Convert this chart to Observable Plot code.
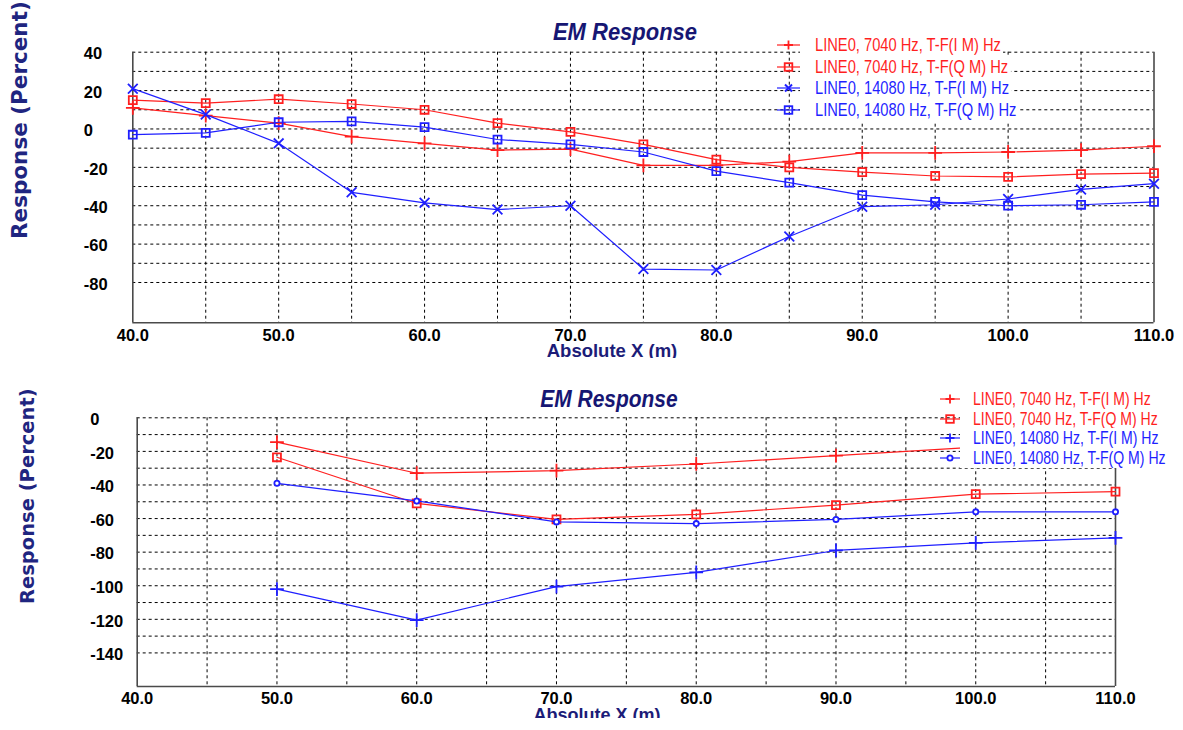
<!DOCTYPE html>
<html>
<head>
<meta charset="utf-8">
<script src="https://cdn.jsdelivr.net/npm/d3@7"></script>
<script src="https://cdn.jsdelivr.net/npm/@observablehq/plot@0.6"></script>
<style>
  html, body { margin: 0; padding: 0; background: #fff; }
  #root { position: relative; width: 1183px; height: 730px; background: #fff; overflow: hidden; }
  .panel { position: absolute; left: 0; width: 1183px; overflow: hidden; }
  .panel > svg { position: absolute; left: 0; top: 0; }
  .title { position: absolute; font-family: "Liberation Sans", Arial, sans-serif; line-height: 1;
           font-weight: bold; font-style: italic; color: #161673; white-space: nowrap; }
  .xlabel { position: absolute; transform: translateX(-50%); font-family: "Liberation Sans", Arial, sans-serif;
            font-weight: bold; color: #1c1c78; white-space: nowrap; line-height: 1; }
  .ylabel { position: absolute; transform-origin: 0 0; transform: rotate(-90deg); font-family: "DejaVu Sans", Verdana, sans-serif;
            font-weight: bold; color: #1f2580; white-space: nowrap; line-height: 1; }
  .legsym { position: absolute; }
  .legtext { position: absolute; white-space: nowrap; background: #fff; font-family: "Liberation Sans", Arial, sans-serif;
             transform-origin: 0 50%; }
</style>
</head>
<body>
<div id="root"></div>
<script>
// ---------------- data ----------------
const seriesNames = [
  "LINE0, 7040 Hz, T-F(I M) Hz",
  "LINE0, 7040 Hz, T-F(Q M) Hz",
  "LINE0, 14080 Hz, T-F(I M) Hz",
  "LINE0, 14080 Hz, T-F(Q M) Hz"
];
const seriesColors = ["#ff1f1f", "#ff1f1f", "#1f1fff", "#1f1fff"];
const topSymbols = ["plus", "square", "times", "square"];
const bottomSymbols = ["plus", "square", "plus", "circle"];

// Top panel
const topX = [40, 45, 50, 55, 60, 65, 70, 75, 80, 85, 90, 95, 100, 105, 110];
const top7040IM  = [11, 7, 3, -4, -7.5, -11, -10.5, -19, -19, -17, -12.5, -12.5, -12, -11, -9];
const top7040QM  = [15, 13.5, 15.5, 13, 10, 3, -1.5, -8, -16, -20, -22.5, -24.5, -25, -23.5, -23];
const top14080IM = [21, 7.5, -7.5, -33, -38.5, -42, -40, -73, -73.5, -56, -40.5, -39.5, -36.5, -31.5, -28.5];
const top14080QM = [-3, -2, 3.5, 4, 1, -5.5, -8, -12, -22, -28, -34.5, -38, -40, -39.5, -38];

// Bottom panel
const bottomX = [50, 60, 70, 80, 90, 100, 110];
const bot7040IM  = [-14.5, -33, -31.5, -27.5, -22.5, -17.5, -14];
const bot7040QM  = [-23.5, -51, -60.5, -57.5, -52, -45.5, -44];
const bot14080IM = [-102, -120.5, -100.5, -92, -79, -74.5, -71.5];
const bot14080QM = [-39, -49.5, -62, -63, -60.5, -56, -56];

// Axes
const xDomain = [40, 110];
const xTicks = [40, 50, 60, 70, 80, 90, 100, 110];
const xGrid = [45, 50, 55, 60, 65, 70, 75, 80, 85, 90, 95, 100, 105];
const topYDomain = [-101, 40];
const topYTicks = [40, 20, 0, -20, -40, -60, -80];
const topYGrid = [40, 30, 20, 10, 0, -10, -20, -30, -40, -50, -60, -70, -80];
const botYDomain = [-160, 0];
const botYTicks = [0, -20, -40, -60, -80, -100, -120, -140];
const botYGrid = [0, -10, -20, -30, -40, -50, -60, -70, -80, -90, -100, -110, -120, -130, -140];

const chartTitle = "EM Response";
const xLabel = "Absolute X (m)";
const yLabel = "Response (Percent)";

// ---------------- helpers ----------------
function tidy(xs, cols) {
  const rows = [];
  cols.forEach((vals, i) => vals.forEach((v, j) => rows.push({x: xs[j], y: v, s: i})));
  return rows;
}
const tickFont = '"Liberation Sans", Arial, sans-serif';
const TICK_SQUEEZE = 0.84;

function squeezeTexts(svg, label, s) {
  svg.querySelectorAll(`g[aria-label="${label}"] text`).forEach(t => {
    const tr = t.getAttribute("transform");
    if (tr && tr.includes("translate")) {
      t.setAttribute("transform", tr + ` scale(${s},1)`);
    } else {
      const x = +(t.getAttribute("x") || 0), y = +(t.getAttribute("y") || 0);
      t.removeAttribute("x"); t.removeAttribute("y");
      t.setAttribute("transform", `translate(${x},${y}) scale(${s},1)` + (tr ? " " + tr : ""));
    }
  });
}

function makePlot(cfg) {
  const rows = tidy(cfg.xs, cfg.cols);
  const marks = [
    Plot.gridY(cfg.yGrid, {stroke: "#000", strokeOpacity: 1, strokeWidth: 1, strokeDasharray: "3,3"}),
    Plot.gridX(xGrid, {stroke: "#000", strokeOpacity: 1, strokeWidth: 1, strokeDasharray: "3,3"}),
    Plot.ruleX(xDomain, {stroke: "#4a4a4a", strokeWidth: 1.6}),
    Plot.ruleY([cfg.yDomain[0]], {stroke: "#4a4a4a", strokeWidth: 1.6})
  ];
  cfg.cols.forEach((vals, i) => {
    const data = rows.filter(d => d.s === i);
    marks.push(Plot.line(data, {x: "x", y: "y", stroke: seriesColors[i], strokeWidth: 1.2}));
    marks.push(Plot.dot(data, {x: "x", y: "y", stroke: seriesColors[i], symbol: () => cfg.symbols[i],
      r: cfg.symbols[i] === "circle" ? 2.6 : 4.5, strokeWidth: 1.8,
      fill: cfg.symbols[i] === "circle" ? "#fff" : "none"}));
  });
  marks.push(Plot.text(cfg.yTicks, {frameAnchor: "left", y: d => d, text: d => String(d), dx: cfg.yTickDx, dy: 2,
    textAnchor: "start", fontWeight: "bold", fontSize: 16.5, fontFamily: tickFont, fill: "#000", ariaLabel: "ytick"}));
  marks.push(Plot.text(xTicks, {frameAnchor: "bottom", x: d => d, text: d => d.toFixed(1), dy: cfg.xTickDy,
    fontWeight: "bold", fontSize: 16.5, fontFamily: tickFont, fill: "#000", ariaLabel: "xtick"}));
  const svg = Plot.plot({
    width: 1183, height: cfg.height,
    marginLeft: cfg.ml, marginRight: cfg.mr, marginTop: cfg.mt, marginBottom: cfg.mb,
    x: {domain: xDomain, axis: null},
    y: {domain: cfg.yDomain, axis: null},
    style: {background: "transparent", overflow: "visible"},
    marks
  });
  squeezeTexts(svg, "ytick", TICK_SQUEEZE);
  squeezeTexts(svg, "xtick", TICK_SQUEEZE);
  return svg;
}

function legendSymbol(sym, color, w) {
  const c = w / 2, cy = 10;
  let m = "";
  if (sym === "plus") m = `<path d="M${c-4.5},${cy}H${c+4.5}M${c},${cy-4.5}V${cy+4.5}" stroke="${color}" stroke-width="1.8"/>`;
  if (sym === "times") m = `<path d="M${c-3.5},${cy-3.5}L${c+3.5},${cy+3.5}M${c-3.5},${cy+3.5}L${c+3.5},${cy-3.5}" stroke="${color}" stroke-width="2"/>`;
  if (sym === "square") m = `<rect x="${c-3.8}" y="${cy-3.8}" width="7.6" height="7.6" fill="none" stroke="${color}" stroke-width="1.8"/>`;
  if (sym === "circle") m = `<circle cx="${c}" cy="${cy}" r="2.6" fill="#fff" stroke="${color}" stroke-width="1.8"/>`;
  return `<svg width="${w}" height="20" style="display:block"><line x1="0" x2="${w}" y1="${cy}" y2="${cy}" stroke="${color}" stroke-width="1.2"/>${m}</svg>`;
}

function addPanel(root, cfg) {
  const panel = document.createElement("div");
  panel.className = "panel";
  panel.style.top = cfg.top + "px";
  panel.style.height = cfg.height + "px";
  panel.appendChild(makePlot(cfg));

  const t = document.createElement("div");
  t.className = "title"; t.textContent = chartTitle;
  t.style.left = cfg.titleX + "px"; t.style.top = cfg.titleY + "px"; t.style.fontSize = cfg.titleSize + "px";
  t.style.transform = `translate(-50%, -50%) scaleX(${cfg.titleSqueeze})`;
  panel.appendChild(t);

  const xl = document.createElement("div");
  xl.className = "xlabel"; xl.textContent = xLabel;
  xl.style.left = cfg.xlX + "px"; xl.style.top = cfg.xlY + "px"; xl.style.fontSize = cfg.xlSize + "px";
  panel.appendChild(xl);

  const yl = document.createElement("div");
  yl.className = "ylabel"; yl.textContent = yLabel;
  yl.style.left = cfg.ylX + "px"; yl.style.top = cfg.ylY + "px"; yl.style.fontSize = cfg.ylSize + "px";
  panel.appendChild(yl);

  seriesNames.forEach((name, i) => {
    const cy = cfg.legY + i * cfg.legDy;
    const sym = document.createElement("div");
    sym.className = "legsym";
    sym.style.left = cfg.legX + "px";
    sym.style.top = (cy - 10) + "px";
    sym.innerHTML = legendSymbol(cfg.symbols[i], seriesColors[i], cfg.legSymW);
    panel.appendChild(sym);

    const tx = document.createElement("div");
    tx.className = "legtext";
    tx.textContent = name;
    const h = cfg.legDy + 0.6;
    tx.style.left = (cfg.legX + cfg.legSymW) + "px";
    tx.style.top = (cy - h / 2) + "px";
    tx.style.height = h + "px";
    tx.style.lineHeight = h + "px";
    tx.style.fontSize = cfg.legSize + "px";
    tx.style.color = seriesColors[i];
    tx.style.paddingLeft = (cfg.legGap / cfg.legSqueeze) + "px";
    tx.style.paddingRight = "3px";
    tx.style.transform = `scaleX(${cfg.legSqueeze})`;
    panel.appendChild(tx);
  });
  root.appendChild(panel);
}

const root = document.getElementById("root");
addPanel(root, {
  top: 0, height: 358, xs: topX, cols: [top7040IM, top7040QM, top14080IM, top14080QM],
  symbols: topSymbols, yDomain: topYDomain, yTicks: topYTicks, yGrid: topYGrid,
  ml: 132.3, mr: 29.5, mt: 51.7, mb: 35.7, yTickDx: -49, xTickDy: 18,
  titleX: 625, titleY: 32, titleSize: 24.7, titleSqueeze: 0.89,
  xlX: 612, xlY: 342, xlSize: 18.5,
  ylX: 8.5, ylY: 239, ylSize: 21.5,
  legX: 777, legY: 45, legDy: 21.7, legSymW: 23, legGap: 15, legSize: 18.6, legSqueeze: 0.79
});
addPanel(root, {
  top: 370, height: 348, xs: bottomX, cols: [bot7040IM, bot7040QM, bot14080IM, bot14080QM],
  symbols: bottomSymbols, yDomain: botYDomain, yTicks: botYTicks, yGrid: botYGrid,
  ml: 136.7, mr: 68, mt: 47.3, mb: 32, yTickDx: -47, xTickDy: 17,
  titleX: 608.5, titleY: 29, titleSize: 24.5, titleSqueeze: 0.855,
  xlX: 597, xlY: 336, xlSize: 18,
  ylX: 18, ylY: 234, ylSize: 19.5,
  legX: 940, legY: 29, legDy: 19.7, legSymW: 20, legGap: 13, legSize: 17.8, legSqueeze: 0.79
});
</script>
</body>
</html>
